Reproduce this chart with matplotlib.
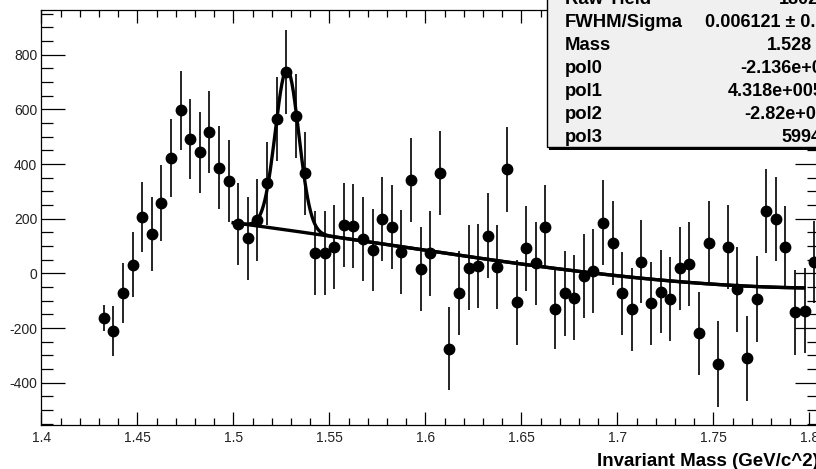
import numpy as np
import matplotlib.pyplot as plt
from matplotlib.patches import Rectangle
from matplotlib.ticker import MultipleLocator, FuncFormatter

plt.rcParams['font.family'] = ['Liberation Sans', 'DejaVu Sans']
plt.rcParams['axes.unicode_minus'] = False

# histogram, 5 MeV bins, first filled bin starts at 1.43
bin_lo = 1.43
bin_w = 0.005
counts = [-163, -210, -73, 32, 207, 144, 259, 422, 597, 492,
          444, 519, 387, 338, 181, 128, 195, 330, 566, 738,
          576, 366, 75, 75, 97, 177, 173, 125, 85, 198,
          171, 79, 342, 16, 73, 366, -275, -73, 21, 28,
          138, 24, 381, -106, 92, 37, 171, -132, -73, -89,
          -10, 8, 185, 112, -73, -132, 43, -110, -67, -95,
          18, 33, -220, 112, -332, 95, -59, -311, -94, 228,
          198, 95, -143, -137, 43]
errors = [48, 92, 110, 120, 129, 137, 139, 142, 145, 147,
          148, 150, 153, 150, 150, 153, 151, 152, 153, 153,
          153, 151, 153, 154, 153, 152, 154, 154, 151, 153,
          154, 153, 154, 153, 154, 154, 151, 154, 155, 153,
          156, 153, 156, 156, 156, 152, 153, 145, 155, 155,
          154, 153, 155, 154, 153, 153, 151, 153, 153, 154,
          153, 154, 153, 153, 156, 154, 156, 156, 156, 155,
          154, 153, 154, 156, 150]

# fit result (stats box)
raw_yield = 1802
mass = 1.528
sigma = 0.006121
fit_lo, fit_hi = 1.5, 1.797

# pol3 background
bg_x = [1.5024, 1.5424, 1.5806, 1.6132, 1.6566, 1.6893, 1.7327, 1.7566, 1.7966]
bg_y = [183, 144, 107, 67, 30, 0, -31, -43, -53]

stat_names = ['Raw Yield', 'FWHM/Sigma', 'Mass', 'pol0', 'pol1', 'pol2', 'pol3']
stat_vals = ['1802', '0.006121 \u00b1 0.0011', '1.528', '-2.136e+005',
             '4.318e+005', '-2.82e+005', '59940']

W, H = 816, 469
fig = plt.figure(figsize=(W / 100, H / 100), dpi=100)
ax = fig.add_axes([41.3 / W, 44 / H, (819 - 41.3) / W, 415 / H])

x = bin_lo + bin_w * (np.arange(len(counts)) + 0.5)
ax.errorbar(x, counts, yerr=errors, fmt='o', color='black', ms=7.5,
            elinewidth=1.2, capsize=0, zorder=3)

amp = raw_yield * bin_w / (sigma * np.sqrt(2 * np.pi))
coef = np.polyfit(bg_x, bg_y, 3)
xf = np.linspace(fit_lo, fit_hi, 400)
bg = np.polyval(coef, xf)
ax.plot(xf, bg, color='black', lw=2.4, zorder=4)
ax.plot(xf, amp * np.exp(-0.5 * ((xf - mass) / sigma) ** 2) + bg,
        color='black', lw=2.4, zorder=4)

ax.set_xlim(1.4, 1.805)
ax.set_ylim(-555, 964)
ax.xaxis.set_major_locator(MultipleLocator(0.05))
ax.xaxis.set_minor_locator(MultipleLocator(0.01))
ax.yaxis.set_major_locator(MultipleLocator(200))
ax.yaxis.set_minor_locator(MultipleLocator(50))
ax.xaxis.set_major_formatter(FuncFormatter(lambda v, p: '%g' % round(v, 3)))
ax.yaxis.set_major_formatter(FuncFormatter(lambda v, p: '%d' % v))

ax.tick_params(which='both', direction='in', top=True, right=True,
               width=0.9, colors='black', labelcolor='#222222', labelsize=10)
ax.tick_params(axis='y', which='major', length=17.3, pad=3)
ax.tick_params(axis='y', which='minor', length=8.6)
ax.tick_params(axis='x', which='major', length=9.4, pad=4)
ax.tick_params(axis='x', which='minor', length=5)
for s in ax.spines.values():
    s.set_linewidth(0.9)

fig.text(597 / W, 1 - 466 / H, 'Invariant Mass (GeV/c^2)', fontsize=13.5,
         fontweight='bold', ha='left', va='baseline')

# stats box with shadow
fig.patches.append(Rectangle((549 / W, 1 - 150 / H), 300 / W, 170 / H,
                             transform=fig.transFigure, facecolor='black',
                             edgecolor='none', zorder=5))
fig.patches.append(Rectangle((547 / W, 1 - 147.5 / H), 300 / W, 170 / H,
                             transform=fig.transFigure, facecolor='#f0f0f0',
                             edgecolor='black', lw=1.0, zorder=6))
val_x = [779, 705, 767, 740, 728, 744, 781]
for i, (name, val) in enumerate(zip(stat_names, stat_vals)):
    base = 4.4 + 22.9 * i
    fig.text(565 / W, 1 - base / H, name, fontsize=13.3, fontweight='bold',
             ha='left', va='baseline', zorder=7)
    fig.text(val_x[i] / W, 1 - base / H, val, fontsize=13, fontweight='bold',
             ha='left', va='baseline', zorder=7)

fig.savefig('out.png', dpi=100)
